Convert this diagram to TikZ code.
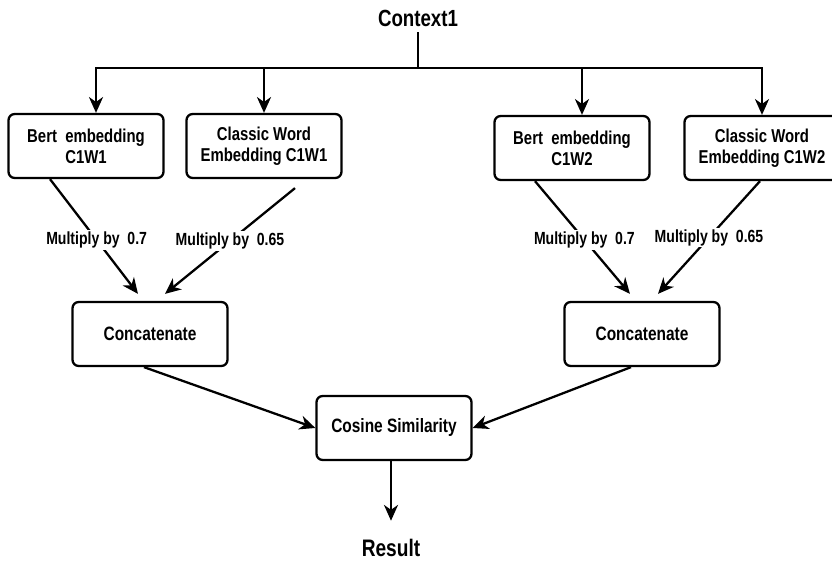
\documentclass[tikz,border=0pt]{standalone}
\usepackage{fontspec}
\setmainfont{Liberation Sans}[FakeStretch=0.8]
\usetikzlibrary{arrows.meta,calc}

\begin{document}
\begin{tikzpicture}[x=0.02cm,y=-0.02cm,
  box/.style={draw,line width=1.3pt,rounded corners=3.5pt,minimum width=3.1cm,minimum height=1.28cm,align=center,font=\fontsize{10.6}{12}\selectfont\bfseries},
  mainbox/.style={box,font=\fontsize{11}{12}\selectfont\bfseries},
  link/.style={line width=1.3pt},
  arr/.style={link,-{Stealth[length=9pt,width=8pt,inset=2.8pt]}},
  mult/.style={fill=white,inner sep=1pt,font=\fontsize{10}{11}\selectfont\bfseries}]
\useasboundingbox (0,0) rectangle (832,564);
\node[font=\fontsize{13.3}{14}\selectfont\bfseries] (ctx) at (418,18) {Context1};
\node[box] (b1) at (86,146) {Bert\ \ embedding\\C1W1};
\node[box] (c1) at (264,146) {Classic Word\\Embedding C1W1};
\node[box] (b2) at (572,148) {Bert\ \ embedding\\C1W2};
\node[box] (c2) at (762,148) {Classic Word\\Embedding C1W2};
\node[mainbox] (cat1) at (150,334) {Concatenate};
\node[mainbox] (cat2) at (642,334) {Concatenate};
\node[mainbox] (cos) at (394,428) {Cosine Similarity};
\node[font=\fontsize{13.6}{14}\selectfont\bfseries] (res) at (391,548) {Result};
% fan out from the context
\coordinate (j) at (418,68);
\draw[link] (ctx) -- (j);
\draw[arr] (j) -| ($(b1.north)+(10,0)$);
\draw[arr] (j) -| (c1.north);
\draw[arr] (j) -| ($(b2.north)+(10,0)$);
\draw[arr] (j) -| (c2.north);
% weighted embeddings
\draw[arr] ($(b1.south)+(-36,0)$) -- node[mult,pos=0.53]{Multiply by\ \ 0.7} ($(cat1.north)+(-12,-7)$);
\draw[arr] ($(c1.south)+(31,9)$) -- node[mult]{Multiply by\ \ 0.65} ($(cat1.north)+(15,-7)$);
\draw[arr] ($(b2.south)+(-37,0)$) -- node[mult,pos=0.52]{Multiply by\ \ 0.7} ($(cat2.north)+(-12,-7)$);
\draw[arr] ($(c2.south)+(-2,0)$) -- node[mult]{Multiply by\ \ 0.65} ($(cat2.north)+(16,-7)$);
% similarity
\draw[arr] ($(cat1.south)+(-6,0)$) -- (cos.west);
\draw[arr] ($(cat2.south)+(-11,0)$) -- (cos.east);
\draw[arr,shorten >=7pt] (cos.south -| res.north) -- (res.north);
\end{tikzpicture}
\end{document}
